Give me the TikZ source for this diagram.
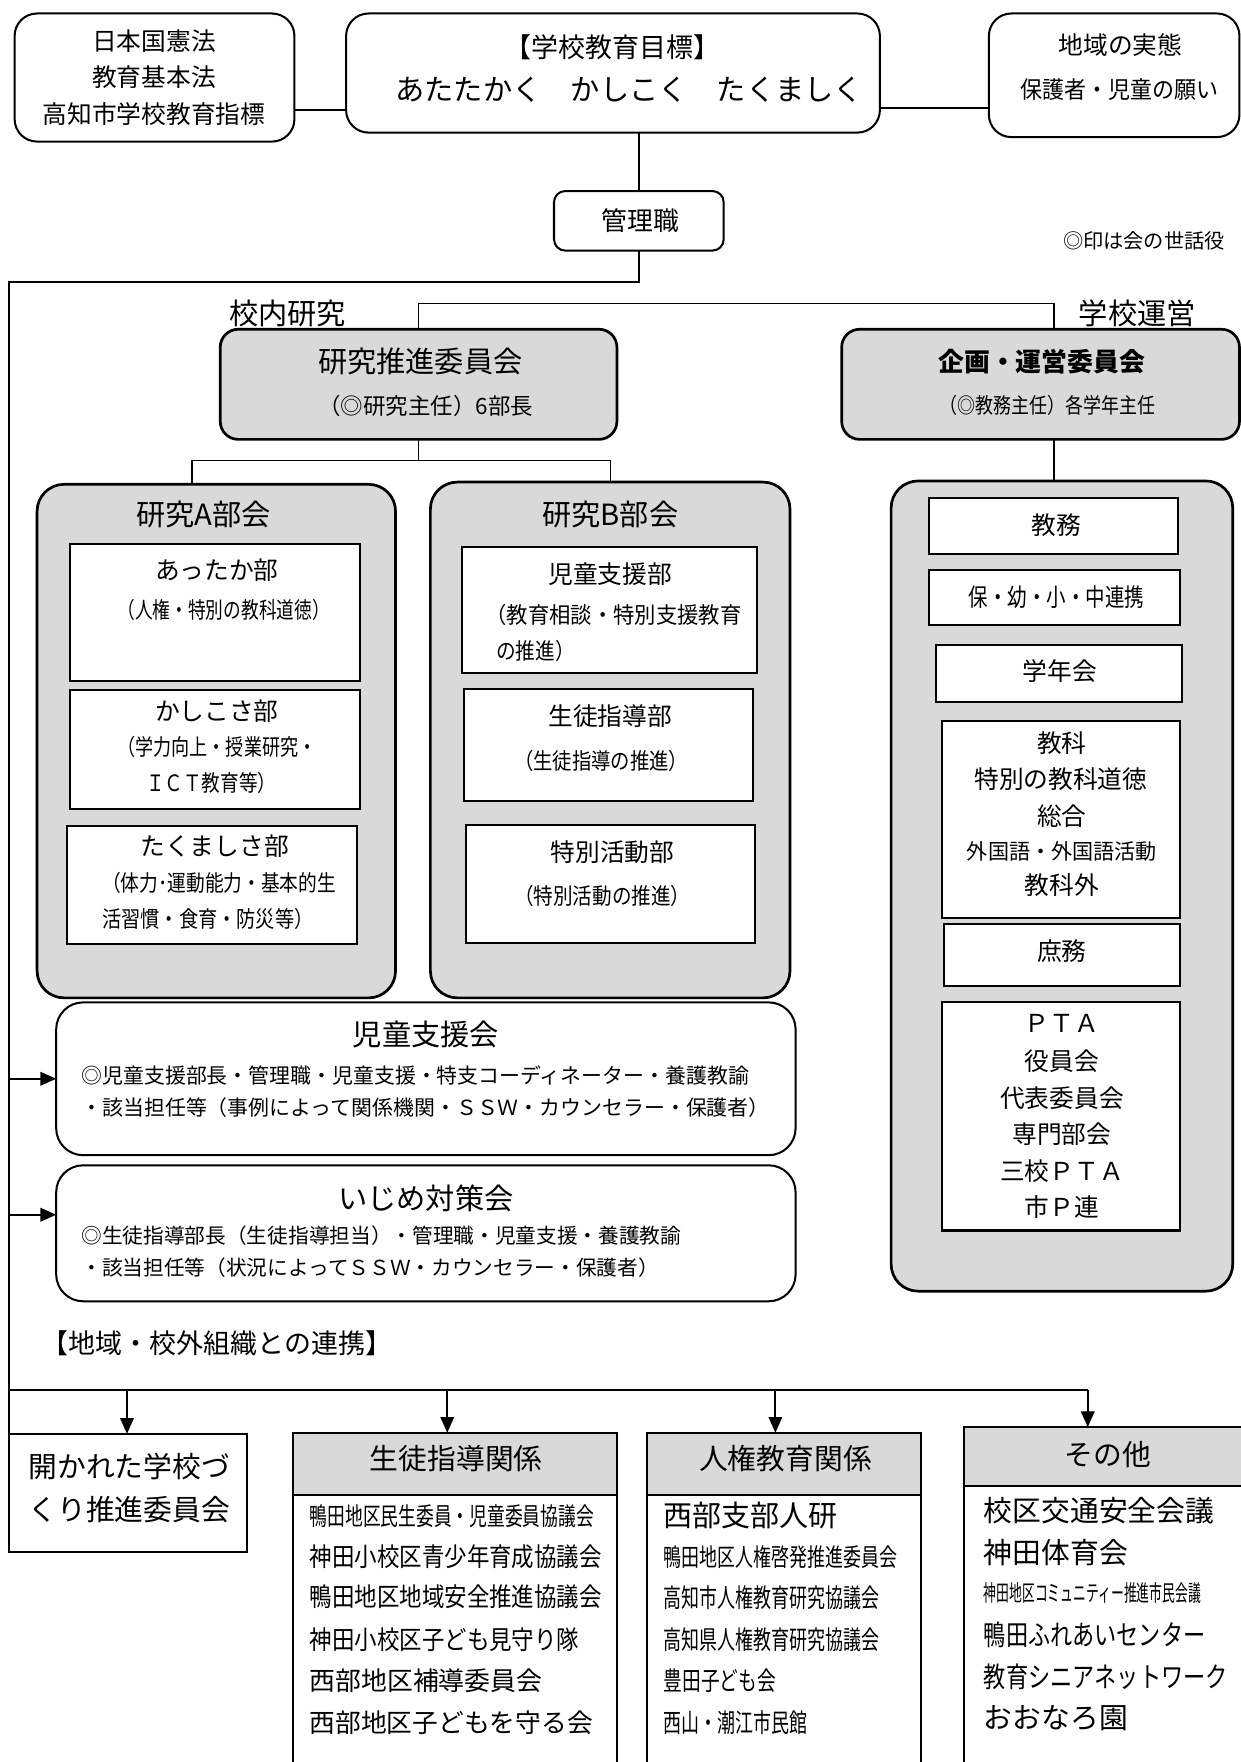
\documentclass[tikz,border=0pt]{standalone}
\usepackage{fontspec}
\setmainfont{Noto Sans CJK JP}
\usetikzlibrary{fit,arrows.meta}
\definecolor{panelgray}{RGB}{217,217,217}
\newcommand{\fsz}[2]{\fontsize{#1pt}{#2pt}\selectfont}
\newcommand{\fitto}[2]{\resizebox{#1}{\height}{#2}}

\begin{document}
\begin{tikzpicture}[x=0.5pt,y=-0.5pt,line width=0.6pt,
    >={Triangle[length=7pt,width=6pt]},
    rbox/.style={draw,line width=0.9pt,fill=white,rounded corners=10pt,inner sep=0pt,outer sep=0pt},
    sbox/.style={draw,line width=0.9pt,fill=white,inner sep=0pt,outer sep=0pt},
    hbox/.style={sbox,fill=panelgray},
    panel/.style={draw,line width=1.2pt,fill=panelgray,rounded corners=12pt,inner sep=0pt,outer sep=0pt},
    txt/.style={inner sep=0pt,align=center,font=\fsz{11}{16.3}},
    item/.style={inner sep=0pt,anchor=west}]
  \useasboundingbox (0,0) rectangle (1104,1568);

  \node[rbox,fit={(13,12) (262,126)}] (law) {};
  \node[rbox,fit={(308,12) (783,118)}] (goal) {};
  \node[rbox,fit={(880,12) (1103,122)}] (wish) {};
  \node[rbox,rounded corners=5pt,fit={(493,170) (644,223)}] (kanri) {};
  \node[txt] (lawt) at (137,69) {日本国憲法\\教育基本法\\高知市学校教育指標};
  \node[txt,font=\fsz{12}{14}] (goalt1) at (545,42) {【学校教育目標】};
  \node[txt,font=\fsz{13}{15}] (goalt2) at (560,80) {あたたかく　かしこく　たくましく};
  \node[txt] (wisht1) at (997,40) {地域の実態};
  \node[txt,font=\fsz{10.5}{12}] (wisht2) at (996,80) {\fitto{88pt}{保護者・児童の願い}};
  \node[txt,font=\fsz{11.5}{13}] (kanrit) at (570,196) {管理職};
  \node[txt,font=\fsz{9}{11}] (note) at (1018,214) {◎印は会の世話役};

  \draw (law.east |- 0,98) -- (goal.west |- 0,98);
  \draw (goal.east |- 0,96) -- (wish.west |- 0,96);
  \draw (kanri.north) -- (kanri.north |- goal.south);

  \node[panel,rounded corners=8pt,fit={(196,293) (549,391)}] (suishin) {};
  \node[panel,rounded corners=8pt,fit={(749,293) (1103,391)}] (kikaku) {};
  \node[txt,font=\fsz{13}{15}] (kounai) at (256,279) {校内研究};
  \node[txt,font=\fsz{13}{15}] (unei-l) at (1012,279) {学校運営};
  \node[txt,font=\fsz{13}{15}] (suishint1) at (374,322) {研究推進委員会};
  \node[txt,font=\fsz{10}{12}] (suishint2) at (379,361) {（◎研究主任）6部長};
  \node[txt,font=\bfseries\fsz{11.5}{13}] (kikakut1) at (927,322) {企画・運営委員会};
  \node[txt,font=\fsz{9.5}{12}] (kikakut2) at (932,361) {\fitto{96pt}{（◎教務主任）各学年主任}};

  \node[panel,fit={(33,431) (352,888)}] (bukaiA) {};
  \node[panel,fit={(383,429) (703,888)}] (bukaiB) {};
  \node[panel,fit={(793,428) (1097,1149)}] (unei) {};
  \node[txt,font=\fsz{13}{15}] (bukaiAt) at (181,458) {研究A部会};
  \node[txt,font=\fsz{13}{15}] (bukaiBt) at (543,458) {研究B部会};

  \draw (suishin.north) -- (suishin.north |- 0,270) -- (938,270) -- (kikaku.north -| 938,0);
  \draw (kikaku.south -| 938,0) -- (unei.north -| 938,0);
  \draw (suishin.south) -- (suishin.south |- 0,410);
  \draw (bukaiA.north -| 171,0) -- (171,410) -- (bukaiB.north |- 0,410) -- (bukaiB.north);

  \node[sbox,fit={(62,484) (320,606)}] (attaka) {};
  \node[sbox,fit={(62,614) (320,720)}] (kashikosa) {};
  \node[sbox,fit={(60,735) (318,840)}] (takumashisa) {};
  \node[txt] (attakat1) at (193,507) {あったか部};
  \node[txt,font=\fsz{10}{12}] (attakat2) at (199,543) {\fitto{94.5pt}{（人権・特別の教科道徳）}};
  \node[txt] (kashikosat1) at (193,633) {かしこさ部};
  \node[txt,font=\fsz{10}{12}] (kashikosat2) at (193,665) {\fitto{88.5pt}{（学力向上・授業研究・}};
  \node[txt,font=\fsz{10}{12}] (kashikosat3) at (188,697) {\fitto{58pt}{ＩＣＴ教育等）}};
  \node[txt] (takumashisat1) at (191,753) {たくましさ部};
  \node[txt,font=\fsz{10}{12}] (takumashisat2) at (195,786) {\fitto{104pt}{（体力･運動能力・基本的生}};
  \node[txt,font=\fsz{10}{12}] (takumashisat3) at (185,818) {\fitto{94pt}{活習慣・食育・防災等）}};

  \node[sbox,fit={(411,487) (674,599)}] (jidoubu) {};
  \node[sbox,fit={(413,613) (670,713)}] (seitobu) {};
  \node[sbox,fit={(415,734) (672,839)}] (tokkatsu) {};
  \node[txt] (jidoubut1) at (543,511) {児童支援部};
  \node[txt,font=\fsz{10}{12}] (jidoubut2) at (546,547) {\fitto{114pt}{（教育相談・特別支援教育}};
  \node[txt,font=\fsz{10}{12},anchor=west] (jidoubut3) at (441,579) {\fitto{35pt}{の推進）}};
  \node[txt] (seitobut1) at (543,637) {生徒指導部};
  \node[txt,font=\fsz{10}{12}] (seitobut2) at (535,677) {\fitto{77.5pt}{（生徒指導の推進）}};
  \node[txt] (tokkatsut1) at (545,758) {特別活動部};
  \node[txt,font=\fsz{10}{12}] (tokkatsut2) at (536,797) {\fitto{78.5pt}{（特別活動の推進）}};

  \node[sbox,fit={(827,443) (1048,493)}] (kyoumu) {};
  \node[sbox,fit={(827,507) (1050,556)}] (hoyou) {};
  \node[sbox,fit={(833,574) (1052,625)}] (gakunen) {};
  \node[sbox,fit={(838,642) (1050,817)}] (kyouka) {};
  \node[sbox,fit={(840,822) (1050,877)}] (shomu) {};
  \node[sbox,fit={(838,892) (1050,1095)}] (pta) {};
  \node[txt] (kyoumut) at (940,467) {教務};
  \node[txt] (hoyout) at (940,531) {\fitto{78pt}{保・幼・小・中連携}};
  \node[txt] (gakunent) at (943,597) {学年会};
  \node[txt] (kyoukat1) at (945,661) {教科};
  \node[txt] (kyoukat2) at (944,693) {特別の教科道徳};
  \node[txt] (kyoukat3) at (945,726) {総合};
  \node[txt,font=\fsz{9.5}{12}] (kyoukat4) at (945,758) {\fitto{84.5pt}{外国語・外国語活動}};
  \node[txt] (kyoukat5) at (945,788) {教科外};
  \node[txt] (shomut) at (945,846) {庶務};
  \foreach \y/\t [count=\i] in {911/ＰＴＡ,944/役員会,977/代表委員会,1009/専門部会,1042/三校ＰＴＡ,1074/市Ｐ連}
    \node[txt] (ptat\i) at (945,\y) {\t};

  \node[rbox,rounded corners=12pt,fit={(50,892) (708,1028)}] (shien) {};
  \node[rbox,rounded corners=12pt,fit={(50,1037) (708,1158)}] (ijime) {};
  \node[txt,font=\fsz{13}{15}] (shient) at (379,921) {児童支援会};
  \node[item,font=\fsz{9.3}{11}] (shien1) at (72,957) {◎児童支援部長・管理職・児童支援・特支コーディネーター・養護教諭};
  \node[item,font=\fsz{9.3}{11}] (shien2) at (72,986) {・該当担任等（事例によって関係機関・ＳＳＷ・カウンセラー・保護者）};
  \node[txt,font=\fsz{13}{15}] (ijimet) at (379,1066) {いじめ対策会};
  \node[item,font=\fsz{9.2}{11}] (ijime1) at (72,1100) {◎生徒指導部長（生徒指導担当）・管理職・児童支援・養護教諭};
  \node[item,font=\fsz{9.2}{11}] (ijime2) at (72,1128) {・該当担任等（状況によってＳＳＷ・カウンセラー・保護者）};

  \node[txt,font=\fsz{12}{14}] (renkei) at (193,1195) {【地域・校外組織との連携】};

  \node[sbox,fit={(8,1276) (220,1381)}] (open) {};
  \node[txt,font=\fsz{12.8}{19}] (opent) at (115,1324) {開かれた学校づ\\くり推進委員会};
  \node[sbox,fit={(261,1275) (549,1580)}] (seito-b) {};
  \node[hbox,fit={(261,1275) (549,1330)}] (seito) {};
  \node[sbox,fit={(576,1275) (820,1580)}] (jinken-b) {};
  \node[hbox,fit={(576,1275) (820,1330)}] (jinken) {};
  \node[sbox,fit={(858,1270) (1110,1580)}] (other-b) {};
  \node[hbox,fit={(858,1270) (1110,1322)}] (other) {};
  \node[txt,font=\fsz{12.8}{15}] (seitot) at (406,1298) {生徒指導関係};
  \node[txt,font=\fsz{12.8}{15}] (jinkent) at (699,1298) {人権教育関係};
  \node[txt,font=\fsz{12.8}{15}] (othert) at (986,1294) {その他};

  \foreach \y/\s/\w/\t [count=\i] in {1349/11/126.5/鴨田地区民生委員・児童委員協議会,
      1385/11.5/130/神田小校区青少年育成協議会,1421/11.5/130/鴨田地区地域安全推進協議会,
      1459/11.5/120/神田小校区子ども見守り隊,1496/11.5/103.5/西部地区補導委員会,
      1533/11.5/126/西部地区子どもを守る会}
    \node[item,font=\fsz{\s}{14}] (seito\i) at (275,\y) {\fitto{\w pt}{\t}};
  \foreach \y/\s/\w/\t [count=\i] in {1349/13/77.5/西部支部人研,
      1386/11/104/鴨田地区人権啓発推進委員会,1422/11.5/96/高知市人権教育研究協議会,
      1459/11.5/96/高知県人権教育研究協議会,1496/11.5/50/豊田子ども会,
      1533/11.5/64/西山・潮江市民館}
    \node[item,font=\fsz{\s}{14}] (jinken\i) at (590,\y) {\fitto{\w pt}{\t}};
  \foreach \y/\s/\w/\t [count=\i] in {1344/12.8/102.5/校区交通安全会議,
      1382/12.8/64/神田体育会,1418/10/96.5/神田地区コミュニティー推進市民会議,
      1455/12.5/98.5/鴨田ふれあいセンター,1492/12.5/108.5/教育シニアネットワーク,
      1529/12.8/64/おおなろ園}
    \node[item,font=\fsz{\s}{14}] (other\i) at (875,\y) {\fitto{\w pt}{\t}};

  \draw (kanri.south) -- (kanri.south |- 0,251) -- (open.north west |- 0,251) -- (open.north west);
  \draw[->,line width=0.9pt] (open.north west |- shien.west) -- (shien.west);
  \draw[->,line width=0.9pt] (open.north west |- 0,1081) -- (ijime.west |- 0,1081);
  \draw (open.north west |- 0,1237) -- (968,1237);
  \foreach \b/\x in {open/113,seito/398,jinken/690,other/968}
    \draw[->,line width=0.8pt] (\x,1237) -- (\b.north -| \x,0);
\end{tikzpicture}
\end{document}
